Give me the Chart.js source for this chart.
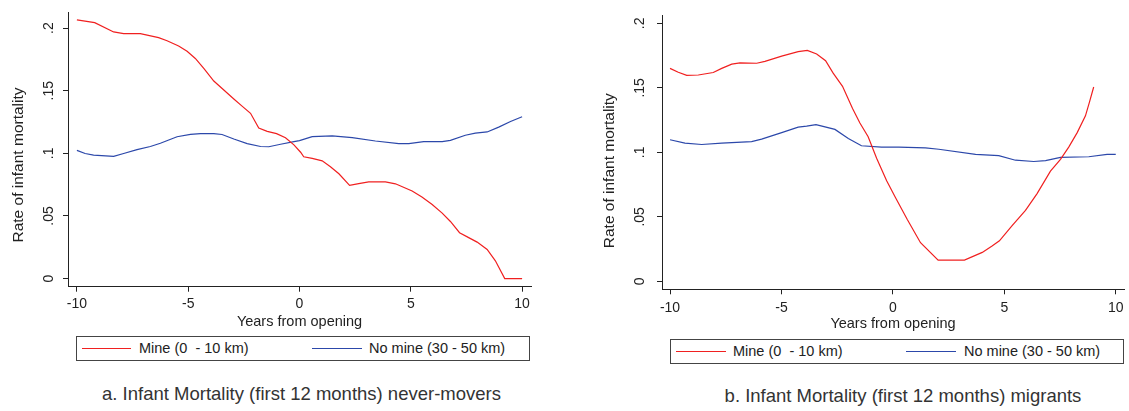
<!DOCTYPE html>
<html>
<head>
<meta charset="utf-8">
<script src="https://cdn.jsdelivr.net/npm/chart.js@4/dist/chart.umd.min.js"></script>
<style>
  html, body { margin: 0; padding: 0; background: #fff; }
  #wrap { position: relative; width: 1129px; height: 411px; background: #fff; overflow: hidden;
          font-family: 'Liberation Sans', Arial, sans-serif; color: #222; }
  canvas { position: absolute; top: 0; }
  .legend { position: absolute; box-sizing: border-box; border: 1px solid #444; background: #fff; }
  .sample { position: absolute; height: 1px; }
  .ltext { position: absolute; font-size: 14.5px; line-height: 18px; white-space: pre; color: #222; }
  .caption { position: absolute; font-size: 18.5px; line-height: 22px; text-align: center; white-space: pre; color: #333; }
</style>
</head>
<body>
<div id="wrap">
  <canvas id="chartA" width="540" height="331" style="left:0px;"></canvas>
  <canvas id="chartB" width="535" height="333" style="left:594px;"></canvas>

  <div class="legend" style="left:76px; top:336px; width:454px; height:25px;"></div>
  <div class="sample" id="sA1" style="left:82px; top:348px; width:49px;"></div>
  <div class="ltext" id="tA1" style="left:139px; top:339px;"></div>
  <div class="sample" id="sA2" style="left:312px; top:348px; width:50px;"></div>
  <div class="ltext" id="tA2" style="left:369px; top:339px;"></div>

  <div class="legend" style="left:670px; top:339px; width:454px; height:25px;"></div>
  <div class="sample" id="sB1" style="left:676px; top:351px; width:50px;"></div>
  <div class="ltext" id="tB1" style="left:733px; top:342px;"></div>
  <div class="sample" id="sB2" style="left:906px; top:351px; width:50px;"></div>
  <div class="ltext" id="tB2" style="left:964px; top:342px;"></div>

  <div class="caption" id="capA" style="left:0px; top:383px; width:603px;"></div>
  <div class="caption" id="capB" style="left:703px; top:385px; width:400px;"></div>
</div>

<script>
// ---------------- DATA ----------------
const seriesNames = ['Mine (0  - 10 km)', 'No mine (30 - 50 km)'];
const captions = ['a. Infant Mortality (first 12 months) never-movers',
                  'b. Infant Mortality (first 12 months) migrants'];
const xAxisTitle = 'Years from opening';
const yAxisTitle = 'Rate of infant mortality';
const xTicks = [-10, -5, 0, 5, 10];
const xTickLabels = ['-10', '-5', '0', '5', '10'];
const yTicks = [0, 0.05, 0.1, 0.15, 0.2];
const yTickLabels = ['0', '.05', '.1', '.15', '.2'];

// Panel a: never-movers
const mineA_x = [-10, -9.2, -8.35, -7.9, -7.15, -6.33, -5.95, -5.43, -5.05, -4.68, -4.3, -3.85, -3.4, -2.95, -2.58, -2.2, -1.83, -1.45, -1.03, -0.63, -0.25, 0.05, 0.19, 0.57, 1.02, 1.39, 1.77, 2.25, 2.66, 3.11, 3.86, 4.31, 5.06, 5.5, 5.96, 6.41, 6.78, 7.19, 7.6, 7.98, 8.43, 8.8, 9.22, 10];
const mineA_y = [0.2067, 0.2044, 0.197, 0.1956, 0.1956, 0.1925, 0.19, 0.1858, 0.1815, 0.1758, 0.1678, 0.1578, 0.1506, 0.1434, 0.1377, 0.132, 0.1202, 0.1176, 0.1158, 0.1125, 0.1068, 0.1009, 0.0973, 0.096, 0.094, 0.0893, 0.0837, 0.0744, 0.0759, 0.0772, 0.0772, 0.0757, 0.07, 0.0651, 0.0592, 0.0523, 0.0456, 0.0366, 0.0327, 0.0291, 0.0232, 0.0142, 0, 0];
const noMineA_x = [-10, -9.63, -9.25, -8.35, -7.9, -7.3, -6.7, -6.25, -5.5, -4.9, -4.45, -3.85, -3.48, -2.95, -2.35, -1.75, -1.38, -0.85, -0.25, 0, 0.57, 1.47, 2.37, 3.41, 4.46, 4.91, 5.58, 6.41, 6.78, 7.45, 7.9, 8.43, 8.95, 9.48, 10];
const noMineA_y = [0.1024, 0.0999, 0.0986, 0.0976, 0.0999, 0.103, 0.1055, 0.1081, 0.1133, 0.1151, 0.1158, 0.1158, 0.1151, 0.1115, 0.1078, 0.1055, 0.1053, 0.1073, 0.1094, 0.1102, 0.1133, 0.114, 0.1125, 0.1099, 0.1078, 0.1078, 0.1094, 0.1094, 0.1104, 0.1145, 0.1161, 0.1171, 0.121, 0.1254, 0.1292];

// Panel b: migrants
const mineB_x = [-10, -9.63, -9.25, -8.73, -8.06, -7.68, -7.23, -6.86, -6.11, -5.74, -4.99, -4.25, -3.84, -3.42, -3.02, -2.68, -2.26, -1.81, -1.48, -1.11, -0.73, -0.28, 0.12, 0.64, 1.24, 2.03, 3.21, 4.01, 4.45, 4.78, 5.35, 5.95, 6.47, 7.07, 7.52, 7.89, 8.27, 8.64, 8.82, 9.01];
const mineB_y = [0.1651, 0.1621, 0.1597, 0.16, 0.1619, 0.1651, 0.1684, 0.1694, 0.1691, 0.1706, 0.1746, 0.1781, 0.1791, 0.1763, 0.1711, 0.1614, 0.1512, 0.134, 0.1228, 0.1121, 0.0954, 0.078, 0.0648, 0.0481, 0.0299, 0.0164, 0.0164, 0.0224, 0.0274, 0.0314, 0.0431, 0.055, 0.068, 0.0854, 0.0946, 0.1041, 0.1153, 0.1283, 0.139, 0.1507];
const noMineB_x = [-10, -9.33, -8.58, -7.68, -6.34, -5.89, -4.99, -4.25, -3.87, -3.45, -2.6, -2.0, -1.41, -0.51, 0.27, 1.46, 2.06, 3.71, 4.75, 5.5, 6.32, 6.85, 7.52, 8.79, 9.61, 10];
const noMineB_y = [0.1098, 0.1071, 0.1061, 0.1071, 0.1083, 0.1103, 0.1153, 0.1196, 0.1203, 0.1215, 0.1178, 0.1108, 0.1051, 0.1041, 0.1041, 0.1034, 0.1024, 0.0984, 0.0974, 0.0939, 0.0929, 0.0936, 0.0961, 0.0966, 0.0984, 0.0984];

// ---------------- STYLE ----------------
const RED = 'rgb(240,32,32)';
const BLUE = 'rgb(44,72,170)';
const FONT = "'Liberation Sans', Arial, sans-serif";
const INK = '#222';

function pts(xs, ys) { return xs.map((x, i) => ({ x: x, y: ys[i] })); }

const yTitlePlugin = {
  id: 'yTitle',
  afterDraw(chart, args, opts) {
    const ctx = chart.ctx;
    ctx.save();
    ctx.translate(opts.x, opts.y);
    ctx.rotate(-Math.PI / 2);
    ctx.font = opts.size + 'px ' + FONT;
    ctx.fillStyle = INK;
    ctx.textAlign = 'center';
    ctx.textBaseline = 'middle';
    ctx.fillText(opts.text, 0, 0);
    ctx.restore();
  }
};

function makeChart(id, cfg) {
  return new Chart(document.getElementById(id), {
    type: 'line',
    data: {
      datasets: [
        { label: seriesNames[0], data: pts(cfg.mx, cfg.my), borderColor: RED, borderWidth: 1.2, pointRadius: 0, tension: 0, fill: false },
        { label: seriesNames[1], data: pts(cfg.nx, cfg.ny), borderColor: BLUE, borderWidth: 1.2, pointRadius: 0, tension: 0, fill: false }
      ]
    },
    options: {
      responsive: false,
      animation: false,
      events: [],
      layout: { padding: { top: cfg.padTop, right: cfg.padRight, bottom: 0, left: 0 } },
      plugins: {
        legend: { display: false },
        tooltip: { enabled: false },
        yTitle: { text: yAxisTitle, x: cfg.yTitleX, y: cfg.yTitleY, size: 15.5 }
      },
      scales: {
        x: {
          type: 'linear',
          min: cfg.xMin, max: cfg.xMax,
          afterBuildTicks: s => { s.ticks = xTicks.map(v => ({ value: v })); },
          afterFit: s => { s.height = cfg.xScaleH; },
          ticks: {
            autoSkip: false, maxRotation: 0, minRotation: 0, padding: cfg.xTickPad,
            color: INK, font: { family: FONT, size: 14 },
            callback: (v, i) => xTickLabels[i]
          },
          grid: { display: true, drawOnChartArea: false, drawTicks: true, tickLength: 5, color: INK, lineWidth: 1 },
          border: { display: true, color: INK, width: 1 },
          title: { display: true, text: xAxisTitle, color: INK, font: { family: FONT, size: 14.5 }, padding: 0 }
        },
        y: {
          type: 'linear',
          min: cfg.yMin, max: cfg.yMax,
          afterBuildTicks: s => { s.ticks = yTicks.map(v => ({ value: v })); },
          afterFit: s => { s.width = 68; },
          ticks: {
            autoSkip: false, minRotation: 90, maxRotation: 90, crossAlign: 'center', padding: cfg.yTickPad,
            color: INK, font: { family: FONT, size: 14 },
            callback: (v, i) => yTickLabels[i]
          },
          grid: { display: true, drawOnChartArea: false, drawTicks: true, tickLength: 5, color: INK, lineWidth: 1 },
          border: { display: true, color: INK, width: 1 },
          title: { display: false }
        }
      }
    },
    plugins: [yTitlePlugin]
  });
}

makeChart('chartA', {
  mx: mineA_x, my: mineA_y, nx: noMineA_x, ny: noMineA_y,
  xMin: -10.4, xMax: 10.4, yMin: -0.0065, yMax: 0.2126,
  padTop: 3, padRight: 9, xScaleH: 44.3, xTickPad: 4, yTickPad: 4,
  yTitleX: 18.3, yTitleY: 165
});
makeChart('chartB', {
  mx: mineB_x, my: mineB_y, nx: noMineB_x, ny: noMineB_y,
  xMin: -10.36, xMax: 10.37, yMin: -0.0062, yMax: 0.2062,
  padTop: 5, padRight: 5, xScaleH: 43.7, xTickPad: 5, yTickPad: 7,
  yTitleX: 16, yTitleY: 170.7
});

// legends and captions (text from data arrays)
const legendItems = [
  ['sA1', 'tA1', 0], ['sA2', 'tA2', 1],
  ['sB1', 'tB1', 0], ['sB2', 'tB2', 1]
];
const seriesColors = [RED, BLUE];
legendItems.forEach(([s, t, k]) => {
  document.getElementById(s).style.backgroundColor = seriesColors[k];
  document.getElementById(t).textContent = seriesNames[k];
});
document.getElementById('capA').textContent = captions[0];
document.getElementById('capB').textContent = captions[1];
</script>
</body>
</html>
